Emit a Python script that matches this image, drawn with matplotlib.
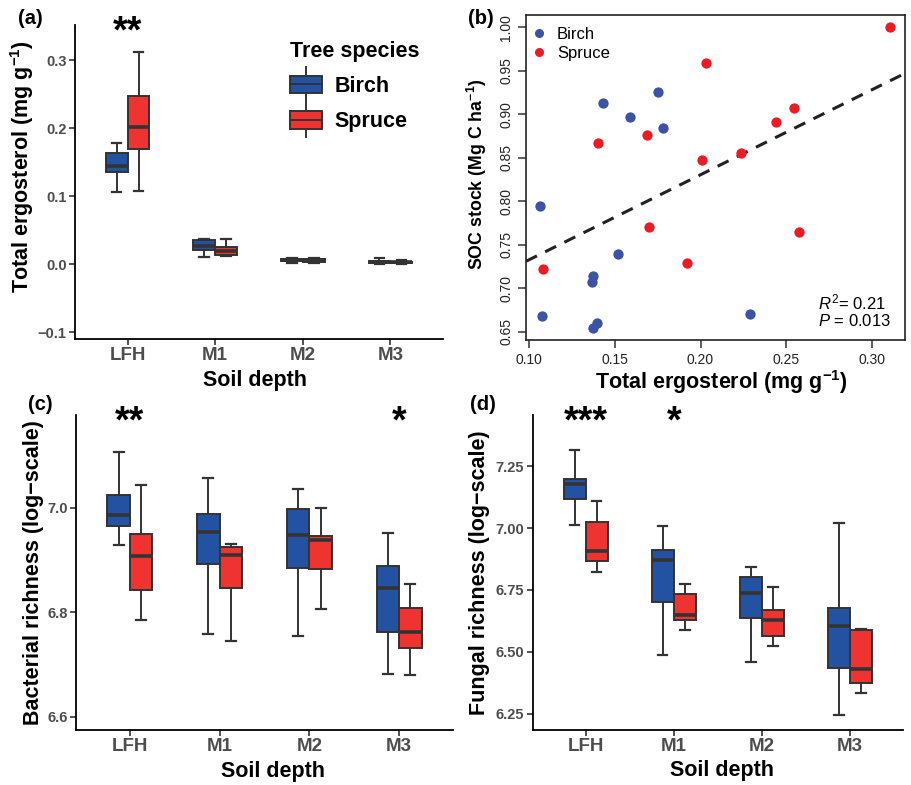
import numpy as np
import matplotlib
matplotlib.use("Agg")
import matplotlib.pyplot as plt
from matplotlib.patches import Rectangle
from matplotlib.lines import Line2D
from matplotlib.legend_handler import HandlerBase

plt.rcParams['font.family'] = ['Liberation Sans', 'DejaVu Sans']
plt.rcParams['mathtext.fontset'] = 'custom'
plt.rcParams['mathtext.rm'] = 'Liberation Sans'
plt.rcParams['mathtext.it'] = 'Liberation Sans:italic'
plt.rcParams['mathtext.bf'] = 'Liberation Sans:bold'

# ---------------- data ----------------
depths = ["LFH", "M1", "M2", "M3"]
species = ["Birch", "Spruce"]

# box stats: [whisker low, Q1, median, Q3, whisker high]
ergo_birch = [[0.106, 0.136, 0.144, 0.163, 0.178],
              [0.0103, 0.0206, 0.027, 0.0363, 0.0378],
              [0.0025, 0.0050, 0.0064, 0.0075, 0.0093],
              [0.0005, 0.0020, 0.0034, 0.0042, 0.0093]]
ergo_spruce = [[0.108, 0.170, 0.202, 0.247, 0.312],
               [0.0122, 0.0143, 0.020, 0.025, 0.0368],
               [0.0025, 0.0040, 0.0060, 0.0080, 0.0095],
               [0.0004, 0.0020, 0.0030, 0.0035, 0.0064]]

bact_birch = [[6.928, 6.966, 6.987, 7.024, 7.107],
              [6.758, 6.892, 6.953, 6.988, 7.058],
              [6.754, 6.885, 6.948, 6.997, 7.037],
              [6.681, 6.762, 6.847, 6.889, 6.951]]
bact_spruce = [[6.785, 6.842, 6.907, 6.950, 7.044],
               [6.745, 6.847, 6.909, 6.925, 6.930],
               [6.806, 6.883, 6.939, 6.947, 6.999],
               [6.680, 6.732, 6.762, 6.808, 6.854]]

fung_birch = [[7.013, 7.118, 7.176, 7.199, 7.313],
              [6.488, 6.702, 6.871, 6.910, 7.007],
              [6.461, 6.638, 6.739, 6.802, 6.844],
              [6.246, 6.434, 6.603, 6.676, 7.022]]
fung_spruce = [[6.824, 6.868, 6.906, 7.023, 7.108],
               [6.587, 6.630, 6.647, 6.734, 6.774],
               [6.523, 6.563, 6.628, 6.668, 6.762],
               [6.336, 6.375, 6.430, 6.589, 6.591]]

ergo_sig = {"LFH": "**"}
bact_sig = {"LFH": "**", "M3": "*"}
fung_sig = {"LFH": "***", "M1": "*"}

# scatter (panel b)
birch_ergo = [0.1428, 0.175, 0.1586, 0.1781, 0.1062, 0.1516, 0.1372, 0.1366,
              0.1072, 0.1395, 0.137, 0.2289]
birch_soc = [0.9134, 0.926, 0.8965, 0.8846, 0.7949, 0.7389, 0.7144, 0.7075,
             0.668, 0.6603, 0.6538, 0.6703]
spruce_ergo = [0.311, 0.2032, 0.2544, 0.2443, 0.1685, 0.1399, 0.2238, 0.2009,
               0.1697, 0.2577, 0.1919, 0.1082]
spruce_soc = [1.0, 0.9586, 0.9076, 0.8907, 0.8766, 0.8674, 0.8559, 0.847,
              0.7707, 0.7642, 0.7286, 0.7217]
r2_text = "0.21"
p_text = "0.013"

# ---------------- style ----------------
BLUE = "#2352A3"
RED = "#EE3331"
EDGE = "#333333"
TICKCOL = "#4D4D4D"
PT_BLUE = "#3A53A4"
PT_RED = "#EC1C24"

W, H = 912, 785
fig = plt.figure(figsize=(W / 100, H / 100), dpi=100)


def rect(x0, y0, x1, y1):
    return [x0 / W, (H - y1) / H, (x1 - x0) / W, (y1 - y0) / H]


def draw_boxes(ax, birch, spruce):
    for data, col, off in [(birch, BLUE, -0.125), (spruce, RED, 0.125)]:
        stats = []
        for d in data:
            stats.append(dict(whislo=d[0], q1=d[1], med=d[2], q3=d[3], whishi=d[4], fliers=[]))
        pos = [k + 1 + off for k in range(len(data))]
        ax.bxp(stats, positions=pos, widths=0.25, capwidths=0.11, patch_artist=True,
               showfliers=False, manage_ticks=False,
               boxprops=dict(facecolor=col, edgecolor=EDGE, linewidth=1.4),
               medianprops=dict(color=EDGE, linewidth=2.6, solid_capstyle='butt'),
               whiskerprops=dict(color=EDGE, linewidth=1.4),
               capprops=dict(color=EDGE, linewidth=1.6), zorder=3)


def style_gg(ax, ylim, yticks, yticklabels):
    ax.set_xlim(0.4, 4.6)
    ax.set_ylim(*ylim)
    ax.set_xticks(range(1, len(depths) + 1))
    ax.set_xticklabels(depths, fontsize=13.5, fontweight='bold', color=TICKCOL)
    ax.set_yticks(yticks)
    ax.set_yticklabels(yticklabels, fontsize=10.5, fontweight='bold', color=TICKCOL)
    for s in ['top', 'right']:
        ax.spines[s].set_visible(False)
    for s in ['left', 'bottom']:
        ax.spines[s].set_linewidth(1.3)
        ax.spines[s].set_color('black')
    ax.tick_params(axis='both', length=4, width=1.2, color=EDGE, pad=2)
    ax.set_xlabel("Soil depth", fontsize=15.5, fontweight='bold')
    ax.xaxis.label.set_va('center')
    ax.yaxis.label.set_va('center')


def add_stars(ax, sig):
    for k, d in enumerate(depths):
        if d in sig:
            ax.text(k + 1, 0.975, sig[d], transform=ax.get_xaxis_transform(),
                    ha='center', va='center', fontsize=27, fontweight='bold',
                    clip_on=False)


class BoxHandler(HandlerBase):
    def create_artists(self, legend, orig_handle, xdescent, ydescent, width, height,
                       fontsize, trans):
        x0, y0 = -xdescent, -ydescent
        cx = x0 + width / 2
        v = Line2D([cx, cx], [y0 - 0.45 * height, y0 + 1.45 * height],
                   color=EDGE, lw=1.4, transform=trans)
        r = Rectangle((x0, y0), width, height, facecolor=orig_handle.get_facecolor(),
                      edgecolor=EDGE, lw=1.4, transform=trans)
        m = Line2D([x0, x0 + width], [y0 + height / 2] * 2, color=EDGE, lw=1.4,
                   transform=trans)
        return [v, r, m]


# ---------------- panel (a) ----------------
ax_a = fig.add_axes(rect(75, 25, 443, 339))
draw_boxes(ax_a, ergo_birch, ergo_spruce)
style_gg(ax_a, (-0.110, 0.352), [-0.1, 0.0, 0.1, 0.2, 0.3],
         ["\u22120.1", "0.0", "0.1", "0.2", "0.3"])
ax_a.set_ylabel(r"Total ergosterol (mg g$^{\mathbf{-1}}$)", fontsize=15.5, fontweight='bold')
ax_a.yaxis.set_label_coords(-0.144, 0.55)
ax_a.xaxis.set_label_coords(0.489, -0.131)
add_stars(ax_a, ergo_sig)
handles = [Rectangle((0, 0), 1, 1, facecolor=BLUE), Rectangle((0, 0), 1, 1, facecolor=RED)]
leg = ax_a.legend(handles, species, title="Tree species", loc='upper left',
                  bbox_to_anchor=(0.56, 0.978), frameon=False,
                  handler_map={Rectangle: BoxHandler()},
                  prop=dict(size=15.5, weight='bold'),
                  title_fontproperties=dict(size=15.5, weight='bold'),
                  handlelength=1.5, handleheight=0.9, labelspacing=0.65,
                  handletextpad=0.6, borderaxespad=0)
leg._legend_box.align = "left"

# ---------------- panel (b) ----------------
ax_b = fig.add_axes(rect(526, 15, 905, 340))
ax_b.scatter(birch_ergo, birch_soc, s=55, color=PT_BLUE, zorder=3, linewidths=0)
ax_b.scatter(spruce_ergo, spruce_soc, s=55, color=PT_RED, zorder=3, linewidths=0)
all_x = np.array(birch_ergo + spruce_ergo)
all_y = np.array(birch_soc + spruce_soc)
slope, intercept = np.polyfit(all_x, all_y, 1)
ax_b.axline((0, intercept), slope=slope, color='#222222', lw=2.2, ls=(0, (4, 3)), zorder=2)
ax_b.set_xlim(0.098, 0.3195)
ax_b.set_ylim(0.6405, 1.0142)
xt = [0.10, 0.15, 0.20, 0.25, 0.30]
yt = [0.65, 0.70, 0.75, 0.80, 0.85, 0.90, 0.95, 1.00]
ax_b.set_xticks(xt)
ax_b.set_xticklabels([f"{v:.2f}" for v in xt], fontsize=10, color='#222222')
ax_b.set_yticks(yt)
ax_b.set_yticklabels([f"{v:.2f}" for v in yt], fontsize=10, color='#222222',
                     rotation=90, va='center')
ax_b.tick_params(axis='both', length=6, width=1.1, color='#333333', pad=3)
for s in ax_b.spines.values():
    s.set_linewidth(1.2)
    s.set_color('#222222')
ax_b.set_xlabel(r"Total ergosterol (mg g$^{\mathbf{-1}}$)", fontsize=15.5, fontweight='bold')
ax_b.set_ylabel(r"SOC stock (Mg C ha$^{\mathbf{-1}}$)", fontsize=12.8, fontweight='bold')
ax_b.xaxis.label.set_va('center')
ax_b.yaxis.label.set_va('center')
ax_b.xaxis.set_label_coords(0.516, -0.13)
ax_b.yaxis.set_label_coords(-0.129, 0.511)
lh = [Line2D([], [], marker='o', ls='', color=PT_BLUE, markersize=5.5),
      Line2D([], [], marker='o', ls='', color=PT_RED, markersize=5.5)]
ax_b.legend(lh, species, loc='upper left', bbox_to_anchor=(-0.006, 0.985), frameon=False,
            prop=dict(size=12), handlelength=1.0, handletextpad=0.6, labelspacing=0.25,
            borderaxespad=0)
ax_b.text(0.77, 0.115, r"$R^2$= " + r2_text, transform=ax_b.transAxes, fontsize=12,
          ha='left', va='center')
ax_b.text(0.77, 0.057, r"$P$ = " + p_text, transform=ax_b.transAxes, fontsize=12,
          ha='left', va='center')

# ---------------- panel (c) ----------------
ax_c = fig.add_axes(rect(76, 415, 453, 730))
draw_boxes(ax_c, bact_birch, bact_spruce)
style_gg(ax_c, (6.5745, 7.178), [6.6, 6.8, 7.0], ["6.6", "6.8", "7.0"])
ax_c.set_ylabel("Bacterial richness (log\u2212scale)", fontsize=15.5, fontweight='bold')
ax_c.yaxis.set_label_coords(-0.112, 0.5)
ax_c.xaxis.set_label_coords(0.5225, -0.132)
add_stars(ax_c, bact_sig)

# ---------------- panel (d) ----------------
ax_d = fig.add_axes(rect(532.7, 415, 902.7, 730))
draw_boxes(ax_d, fung_birch, fung_spruce)
style_gg(ax_d, (6.185, 7.456), [6.25, 6.50, 6.75, 7.00, 7.25],
         ["6.25", "6.50", "6.75", "7.00", "7.25"])
ax_d.set_ylabel("Fungal richness (log\u2212scale)", fontsize=15.5, fontweight='bold')
ax_d.yaxis.set_label_coords(-0.145, 0.5)
ax_d.xaxis.set_label_coords(0.511, -0.130)
add_stars(ax_d, fung_sig)

# panel letters
for lab, (px, py) in {"(a)": (30, 18), "(b)": (481, 18), "(c)": (40, 405),
                      "(d)": (483, 405)}.items():
    fig.text(px / W, 1 - py / H, lab, fontsize=14.5, fontweight='bold',
             ha='center', va='center')

fig.savefig("out.png", dpi=100)
